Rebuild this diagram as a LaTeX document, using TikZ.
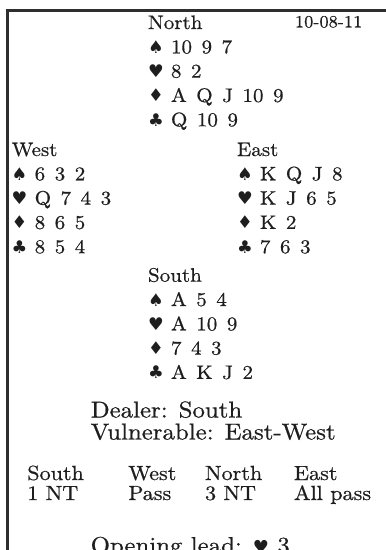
\documentclass[tikz,border=0pt]{standalone}
\usepackage{fontspec}
\setmainfont{lmroman10-regular.otf}[FakeStretch=1.08, FakeBold=0.6]
\newfontfamily\suitfont{DejaVu Sans}
\definecolor{ink}{HTML}{1E1E1E}
\definecolor{frame}{HTML}{2E2E2E}
\newcommand\cardfont{\fontsize{19.5}{23}\selectfont\spaceskip=9.5pt plus 1pt\relax}
\newcommand\suitsym{\suitfont\fontsize{17.5}{20}\selectfont}
\newcommand\datefont{\fontsize{17}{20}\selectfont}
\newcommand\infofont{\fontsize{23}{27}\selectfont}
\newcommand\bidfont{\fontsize{20.5}{24}\selectfont}
\newcommand\hand[7]{%
  \node[card] (#1) at #2 {#3};
  \node[suit] (#1S) at ([yshift=-24.3pt]#1.base west) {♠};
  \node[card] (#1s) at ([xshift=23pt]#1S.base west) {#4};
  \node[suit] (#1H) at ([yshift=-24.3pt]#1S.base west) {♥};
  \node[card] (#1h) at ([xshift=23pt]#1H.base west) {#5};
  \node[suit] (#1D) at ([yshift=-24.3pt]#1H.base west) {♦};
  \node[card] (#1d) at ([xshift=23pt]#1D.base west) {#6};
  \node[suit] (#1C) at ([yshift=-24.3pt]#1D.base west) {♣};
  \node[card] (#1c) at ([xshift=23pt]#1C.base west) {#7};
}
\begin{document}
\begin{tikzpicture}[x=1pt,y=-1pt,
  txt/.style={anchor=base west, inner sep=0pt, outer sep=0pt, text=ink},
  card/.style={txt, font=\cardfont},
  suit/.style={txt, font=\suitsym},
  info/.style={txt, font=\infofont},
  bid/.style={txt, font=\bidfont},
  datestyle/.style={txt, font=\datefont}]
\useasboundingbox (0,0) rectangle (386,550);
\clip (0,0) rectangle (386,550);
\fill[white] (0,0) rectangle (386,550);
\coordinate (fb) at (7.5,552);
\coordinate (fc) at (7.5,10.3);
\coordinate (fr) at (388,10.3);
\draw[frame, line width=2.6pt] (fb) -- (fc) -- (fr);

\hand{N}{(148,29)}{North}{10 9 7}{8 2}{A Q J 10 9}{Q 10 9}
\node[datestyle] (date) at (295,27.3) {10-08-11};
\hand{W}{(11.7,156)}{West}{6 3 2}{Q 7 4 3}{8 6 5}{8 5 4}
\hand{E}{(237,156)}{East}{K Q J 8}{K J 6 5}{K 2}{7 6 3}
\hand{S}{(148,281.7)}{South}{A 5 4}{A 10 9}{7 4 3}{A K J 2}

\node[info] (dealer) at (90.7,417.5) {Dealer: South};
\node[info] (vul) at (90.7,439.5) {Vulnerable: East-West};

\node[bid] (b1) at (27.3,480) {South};
\node[bid] (b2) at (128.3,480) {West};
\node[bid] (b3) at (205,480) {North};
\node[bid] (b4) at (294,480) {East};
\node[bid] (c1) at (27.3,500) {1 NT};
\node[bid] (c2) at (128.3,500) {Pass};
\node[bid] (c3) at (205,500) {3 NT};
\node[bid] (c4) at (294,500) {All pass};

\node[info] (lead) at (90.7,553) {Opening lead: {\suitsym\fontsize{18}{20}\selectfont ♥} 3};
\end{tikzpicture}
\end{document}
